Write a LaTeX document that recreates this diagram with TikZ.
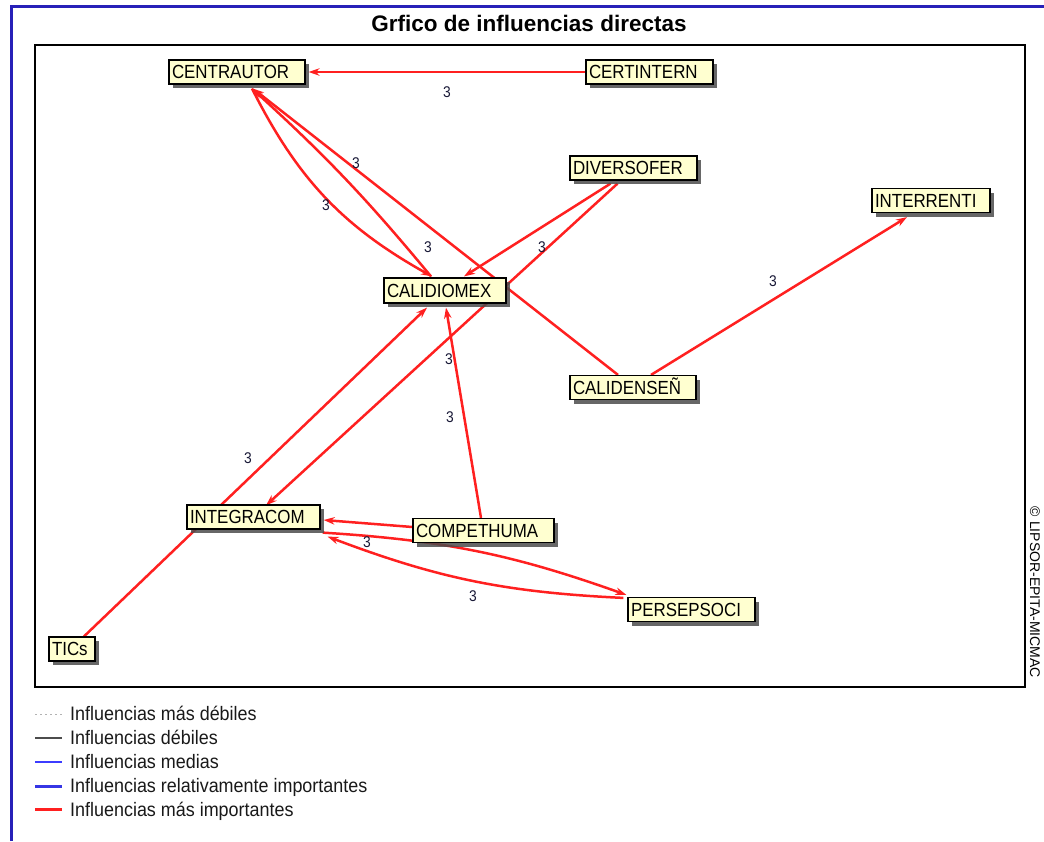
\documentclass[tikz,border=0pt]{standalone}
\usepackage{fontspec}
\setmainfont{Liberation Sans}
\newfontfamily\nodefont[FakeStretch=0.89]{Liberation Sans}
\newfontfamily\legfont[FakeStretch=0.92]{Liberation Sans}
\usetikzlibrary{arrows.meta,shadows,calc}
\definecolor{nodefill}{RGB}{255,255,208}
\definecolor{linkred}{RGB}{255,32,32}
\definecolor{framebl}{RGB}{40,32,184}
\definecolor{lblcol}{RGB}{25,25,55}
\definecolor{legblue}{RGB}{60,60,255}
\pgfdeclarelayer{links}
\pgfsetlayers{links,main}
\tikzset{
  var/.style={draw=black, line width=1.2pt, fill=nodefill, inner xsep=3pt, inner ysep=0pt,
    minimum height=24pt, text height=13.6pt, text depth=0pt, align=left,
    font=\nodefont\fontsize{19}{22}\selectfont,
    drop shadow={shadow xshift=4pt, shadow yshift=-4pt, fill=black!70, opacity=0.85}},
  link/.style={draw=linkred, line width=2.5pt, -{Stealth[length=11pt,width=7.5pt]}},
  wt/.style={font=\nodefont\fontsize{15.5}{17}\selectfont, text=lblcol, inner sep=0pt},
  legtxt/.style={font=\legfont\fontsize{19.5}{22}\selectfont, text=black!90, anchor=base west, inner sep=0pt},
}
\begin{document}
\begin{tikzpicture}[x=1pt,y=-1pt]
\useasboundingbox (0,0) rectangle (1044,841);

% outer frame and plotting area
\draw[framebl, line width=3pt] (11.7,841) -- (11.7,6.7) -- (1044,6.7);
\draw[black, line width=1.2pt] (35,45) rectangle (1025,687);

% title
\node[font=\bfseries\fontsize{22.5}{26}\selectfont, anchor=base] (title) at (529,31) {Grfico de influencias directas};

% variables
\node[var, text width=130pt] (centrautor) at (237,72) {CENTRAUTOR};
\node[var, text width=121pt] (certintern) at (649.5,72) {CERTINTERN};
\node[var, text width=121pt] (diversofer) at (633.5,168) {DIVERSOFER};
\node[var, text width=112pt] (interrenti) at (931,200.5) {INTERRENTI};
\node[var, text width=116pt, minimum height=25pt] (calidiomex) at (445,290.5) {CALIDIOMEX};
\node[var, text width=120pt] (calidensen) at (633,387.5) {CALIDENSEÑ};
\node[var, text width=127pt] (integracom) at (253.5,517) {INTEGRACOM};
\node[var, text width=135pt] (compethuma) at (483.5,530.5) {COMPETHUMA};
\node[var, text width=121pt] (persepsoci) at (691.5,609.5) {PERSEPSOCI};
\node[var, text width=40pt] (tics) at (72,649) {TICs};

% influences
\begin{pgfonlayer}{links}
\draw[link] (certintern.west) -- ([xshift=3pt]centrautor.east);
\draw[link] ($(centrautor.south)+(15,4)$) to[bend right=17] ($(calidiomex.north)+(-13,-1)$);
\draw[link] ($(calidiomex.north)+(-14,-1)$) to[bend right=4] ($(centrautor.south)+(15,4)$);
\draw[link] ($(calidensen.north)+(-15,0)$) -- ($(centrautor.south)+(16,4)$);
\draw[link] ($(diversofer.south)+(-23,3)$) -- ($(calidiomex.north)+(19,-1)$);
\draw[link] ($(diversofer.south)+(-16,3)$) -- ($(integracom.north)+(12.5,1)$);
\draw[link] ($(calidensen.north)+(18,0)$) -- ($(interrenti.south)+(-24,4)$);
\draw[link] ($(tics.north)+(12,0)$) -- ($(calidiomex.south)+(-18,4)$);
\draw[link] ($(compethuma.north)+(-2.5,0)$) -- ($(calidiomex.south)+(1,4)$);
\draw[link] ($(compethuma.west)+(0,-3.5)$) -- ($(integracom.east)+(3,3)$);
\draw[link] ($(integracom.south east)+(2,3)$) to[bend left=8] ($(persepsoci.north west)+(-1,-2)$);
\draw[link] ($(persepsoci.north west)+(-4,1)$) to[bend left=9] ($(integracom.south east)+(7,7)$);
\end{pgfonlayer}

% influence weights
\node[wt] (w1) at (447,92) {3};
\node[wt] (w2) at (356,163) {3};
\node[wt] (w3) at (326,205) {3};
\node[wt] (w4) at (428,247) {3};
\node[wt] (w5) at (542,247) {3};
\node[wt] (w6) at (773,281) {3};
\node[wt] (w7) at (449,359) {3};
\node[wt] (w8) at (450,417) {3};
\node[wt] (w9) at (248,458) {3};
\node[wt] (w10) at (367,542) {3};
\node[wt] (w11) at (473,596) {3};

% copyright
\node[rotate=-90, font=\fontsize{14}{16}\selectfont, inner sep=0pt] (copy) at (1035,592.5) {© LIPSOR-EPITA-MICMAC};

% legend
\draw[black!30, line width=1pt, dash pattern=on 2pt off 3pt] (35,714) -- (62,714);
\node[legtxt] (l1) at (70,720.5) {Influencias más débiles};
\draw[black!70, line width=1.3pt] (35,738) -- (62,738);
\node[legtxt] (l2) at (70,744.5) {Influencias débiles};
\draw[legblue, line width=1.3pt] (35,762) -- (62,762);
\node[legtxt] (l3) at (70,768.5) {Influencias medias};
\draw[legblue!90!black, line width=3pt] (35,786) -- (62,786);
\node[legtxt] (l4) at (70,792.5) {Influencias relativamente importantes};
\draw[linkred, line width=3pt] (35,809.5) -- (62,809.5);
\node[legtxt] (l5) at (70,816) {Influencias más importantes};
\end{tikzpicture}
\end{document}
